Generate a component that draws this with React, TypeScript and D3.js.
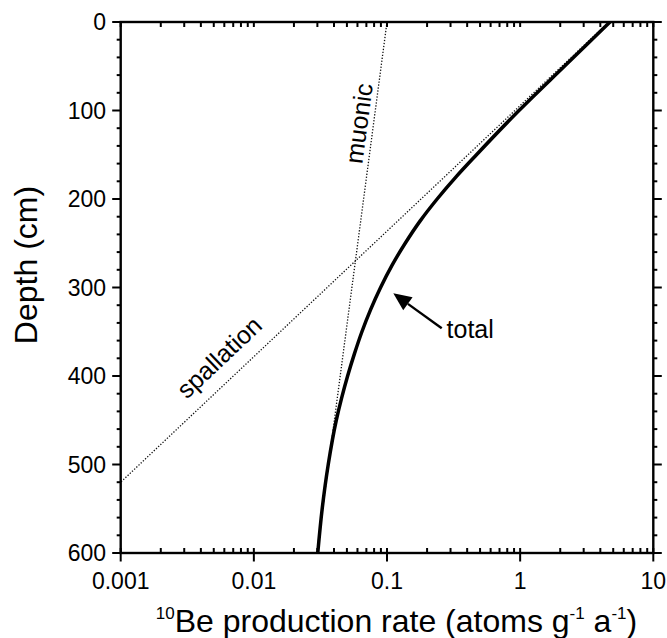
import * as React from 'react';
import * as d3 from 'd3';

// axis ticks
const depthTicks = [0, 100, 200, 300, 400, 500, 600];
const rateTicks = [0.001, 0.01, 0.1, 1, 10];
const rateTickLabels = ['0.001', '0.01', '0.1', '1', '10'];

// spallation is a straight line on the log axis, read at both ends
const spallationDepth = [0, 520];
const spallationRate = [4.63, 0.001];

// muonic, also straight
const muonicDepth = [0, 600];
const muonicRate = [0.1, 0.0297];

// total production
const totalDepth = [0, 50, 100, 150, 175, 200, 225, 250, 275, 300, 325, 350, 375, 400, 425, 450, 500, 550, 600];
const totalRate = [4.73, 2.15, 0.98, 0.47, 0.33, 0.238, 0.177, 0.137, 0.109, 0.0895, 0.0753, 0.0648, 0.0569, 0.0506, 0.0456, 0.0416, 0.0362, 0.0326, 0.0302];

const FONT = "'Liberation Sans', Arial, Helvetica, sans-serif";

export default function App() {
  const ref = React.useRef<SVGSVGElement>(null);

  React.useEffect(() => {
    const svg = d3.select(ref.current);
    svg.selectAll('*').remove();

    const left = 120.7, right = 653.3, top = 22, bottom = 553;
    const x = d3.scaleLog().domain([0.001, 10]).range([left, right]);
    const y = d3.scaleLinear().domain([0, 600]).range([top, bottom]);

    svg.append('defs').append('clipPath').attr('id', 'plot-clip')
      .append('rect')
      .attr('x', left).attr('y', top)
      .attr('width', right - left).attr('height', bottom - top);

    const line = d3.line<[number, number]>()
      .x(d => x(d[0]))
      .y(d => y(d[1]));

    const curves = svg.append('g').attr('clip-path', 'url(#plot-clip)');

    const spall = spallationRate.map((r, i) => [r, spallationDepth[i]] as [number, number]);
    const muon = muonicRate.map((r, i) => [r, muonicDepth[i]] as [number, number]);
    const total = totalRate.map((r, i) => [r, totalDepth[i]] as [number, number]);

    [spall, muon].forEach(pts => {
      curves.append('path')
        .attr('d', line(pts))
        .attr('fill', 'none')
        .attr('stroke', '#111')
        .attr('stroke-width', 1.3)
        .attr('stroke-dasharray', '1.3 1.7');
    });

    curves.append('path')
      .attr('d', line.curve(d3.curveMonotoneY)(total))
      .attr('fill', 'none')
      .attr('stroke', '#000')
      .attr('stroke-width', 3.5)
      .attr('stroke-linecap', 'round');

    // frame
    svg.append('rect')
      .attr('x', left).attr('y', top)
      .attr('width', right - left).attr('height', bottom - top)
      .attr('fill', 'none')
      .attr('stroke', '#000')
      .attr('stroke-width', 2.4);

    const ticks = svg.append('g').attr('stroke', '#000').attr('stroke-width', 2);

    // x minor ticks, inside, top and bottom
    const minor: number[] = [];
    for (let k = -3; k < 1; k++) {
      for (let i = 1; i < 10; i++) minor.push(i * Math.pow(10, k));
    }
    minor.push(10);
    minor.forEach(v => {
      ticks.append('line').attr('x1', x(v)).attr('x2', x(v)).attr('y1', bottom).attr('y2', bottom - 5);
      ticks.append('line').attr('x1', x(v)).attr('x2', x(v)).attr('y1', top).attr('y2', top + 5);
    });
    rateTicks.forEach(v => {
      ticks.append('line').attr('x1', x(v)).attr('x2', x(v)).attr('y1', bottom).attr('y2', bottom + 8.5);
    });

    // y ticks, outside, left and right
    d3.range(0, 601, 20).forEach(d => {
      const len = d % 100 === 0 ? 8.5 : 4;
      ticks.append('line').attr('x1', left).attr('x2', left - len).attr('y1', y(d)).attr('y2', y(d));
      ticks.append('line').attr('x1', right).attr('x2', right + len).attr('y1', y(d)).attr('y2', y(d));
    });

    const text = svg.append('g').attr('font-family', FONT).attr('fill', '#000');

    depthTicks.forEach(d => {
      text.append('text')
        .attr('x', 106).attr('y', y(d))
        .attr('dy', '0.36em')
        .attr('text-anchor', 'end')
        .attr('font-size', 23)
        .text(d);
    });

    rateTicks.forEach((v, i) => {
      text.append('text')
        .attr('x', x(v)).attr('y', 588.5)
        .attr('text-anchor', 'middle')
        .attr('font-size', 23)
        .text(rateTickLabels[i]);
    });

    text.append('text')
      .attr('transform', `translate(37, 265) rotate(-90)`)
      .attr('text-anchor', 'middle')
      .attr('font-size', 32)
      .text('Depth (cm)');

    const xt = text.append('text')
      .attr('x', 396.5).attr('y', 632)
      .attr('text-anchor', 'middle')
      .attr('font-size', 32);
    xt.append('tspan').attr('font-size', 17).attr('dy', -13).text('10');
    xt.append('tspan').attr('dy', 13).text('Be production rate (atoms g');
    xt.append('tspan').attr('font-size', 17).attr('dy', -13).text('-1');
    xt.append('tspan').attr('dy', 13).text(' a');
    xt.append('tspan').attr('font-size', 17).attr('dy', -13).text('-1');
    xt.append('tspan').attr('dy', 13).text(')');

    // line labels, rotated along their lines
    const angleOf = (pts: [number, number][]) => {
      const a = pts[0], b = pts[pts.length - 1];
      const dx = x(a[0]) - x(b[0]);
      const dy = y(a[1]) - y(b[1]);
      return Math.atan2(dy, dx) * 180 / Math.PI;
    };

    text.append('text')
      .attr('transform', `translate(${x(0.0715)}, ${y(116)}) rotate(${angleOf(muon)})`)
      .attr('text-anchor', 'middle')
      .attr('font-size', 25)
      .text('muonic');

    text.append('text')
      .attr('transform', `translate(${x(0.0061)}, ${y(386)}) rotate(${angleOf(spall)})`)
      .attr('text-anchor', 'middle')
      .attr('font-size', 25)
      .text('spallation');

    text.append('text')
      .attr('x', x(0.28)).attr('y', y(357))
      .attr('font-size', 25)
      .text('total');

    // arrow to the total curve
    const tail: [number, number] = [x(0.2576), y(346)];
    const tip: [number, number] = [x(0.1115), y(306.6)];
    const ang = Math.atan2(tip[1] - tail[1], tip[0] - tail[0]);
    const headLen = 18, headHalf = 8;
    const base: [number, number] = [tip[0] - headLen * Math.cos(ang), tip[1] - headLen * Math.sin(ang)];
    svg.append('line')
      .attr('x1', tail[0]).attr('y1', tail[1])
      .attr('x2', base[0]).attr('y2', base[1])
      .attr('stroke', '#000')
      .attr('stroke-width', 2.4);
    svg.append('polygon')
      .attr('points', [
        tip,
        [base[0] + headHalf * Math.sin(ang), base[1] - headHalf * Math.cos(ang)],
        [base[0] - headHalf * Math.sin(ang), base[1] + headHalf * Math.cos(ang)],
      ].map(p => p.join(',')).join(' '))
      .attr('fill', '#000');
  }, []);

  return (
    <svg
      ref={ref}
      width={667}
      height={638}
      style={{ position: 'absolute', left: 0, top: 0, background: '#fff' }}
    />
  );
}
